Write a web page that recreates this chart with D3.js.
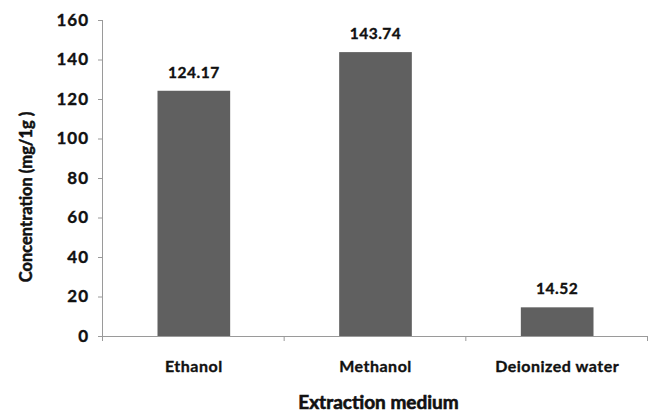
<!DOCTYPE html>
<html>
<head>
<meta charset="utf-8">
<script src="https://cdn.jsdelivr.net/npm/d3@7"></script>
<style>
  html, body { margin: 0; padding: 0; background: #fff; }
  svg { display: block; }
  text { font-family: Lato, "Open Sans", sans-serif; font-weight: 700; fill: #111; stroke: #111; stroke-width: 0.35px; }
</style>
</head>
<body>
<svg id="chart" width="649" height="413"></svg>
<script>
// Extraction yield by solvent
const categories = ["Ethanol", "Methanol", "Deionized water"];
const values = [124.17, 143.74, 14.52];
const yTicks = [0, 20, 40, 60, 80, 100, 120, 140, 160];
const xTitle = "Extraction medium";
const yTitle = "Concentration (mg/1g )";

const svg = d3.select("#chart");
const margin = { left: 103, right: 1, top: 20, bottom: 77 };
const W = 649, H = 413;

const x = d3.scaleBand()
  .domain(categories)
  .range([margin.left, W - margin.right])
  .paddingInner(0.6)
  .paddingOuter(0.3);

const y = d3.scaleLinear()
  .domain([0, 160])
  .range([H - margin.bottom, margin.top]);

const axisColor = "#9a9a9a";

// Y axis
const gy = svg.append("g")
  .attr("transform", `translate(${margin.left},0)`)
  .call(d3.axisLeft(y).tickValues(yTicks).tickSize(5).tickPadding(9));
gy.select(".domain").attr("stroke", axisColor).attr("d", `M-0.5,${y(160)}V${y(0) + 5}`);
gy.selectAll(".tick line").attr("stroke", axisColor);
gy.selectAll(".tick text")
  .style("font-size", "17px")
  .style("letter-spacing", "1px")
  .attr("fill", "#111");

// Bars
svg.append("g").selectAll("rect")
  .data(categories)
  .join("rect")
  .attr("x", d => x(d))
  .attr("width", x.bandwidth())
  .attr("y", (d, i) => y(values[i]))
  .attr("height", (d, i) => y(0) - y(values[i]))
  .attr("fill", "#606060");

// Value labels
svg.append("g").selectAll("text")
  .data(categories)
  .join("text")
  .attr("x", d => x(d) + x.bandwidth() / 2)
  .attr("y", (d, i) => y(values[i]) - 13)
  .attr("text-anchor", "middle")
  .style("font-size", "15.5px")
  .style("letter-spacing", "0.5px")
  .text((d, i) => values[i].toFixed(2));

// X axis with ticks between categories
const plotW = W - margin.right - margin.left;
const boundaries = [1, 2, 3].map(k => margin.left + k * plotW / 3);
const gx = svg.append("g").attr("transform", `translate(0,${y(0)})`);
gx.append("line")
  .attr("x1", margin.left).attr("x2", W - margin.right)
  .attr("y1", 0.5).attr("y2", 0.5)
  .attr("stroke", axisColor);
gx.selectAll("line.tk")
  .data(boundaries)
  .join("line")
  .attr("class", "tk")
  .attr("x1", d => d - 0.5).attr("x2", d => d - 0.5)
  .attr("y1", 0).attr("y2", 5)
  .attr("stroke", axisColor);
gx.selectAll("text")
  .data(categories)
  .join("text")
  .attr("x", d => x(d) + x.bandwidth() / 2)
  .attr("y", 36)
  .attr("text-anchor", "middle")
  .style("font-size", "16px")
  .style("letter-spacing", "0.5px")
  .text(d => d);

// Axis titles
svg.append("text")
  .attr("x", (margin.left + W - margin.right) / 2 + 3)
  .attr("y", 409)
  .attr("text-anchor", "middle")
  .style("font-size", "19px")
  .style("stroke-width", "0.6px")
  .text(xTitle);

svg.append("text")
  .attr("transform", `translate(32,197) rotate(-90)`)
  .attr("text-anchor", "middle")
  .style("font-size", "16.5px")
  .style("stroke-width", "0.5px")
  .text(yTitle);
</script>
</body>
</html>
